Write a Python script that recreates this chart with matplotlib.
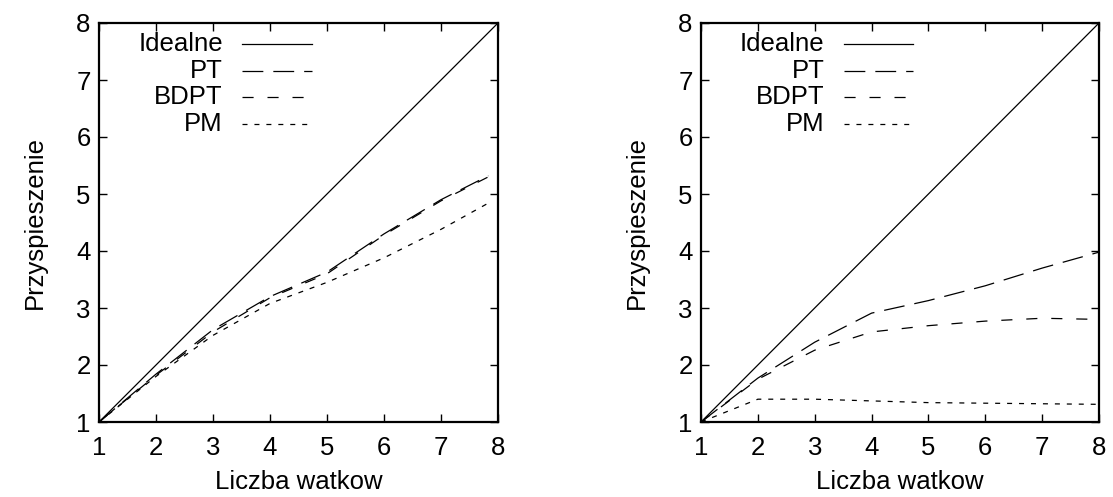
import matplotlib
matplotlib.use("Agg")
import matplotlib.pyplot as plt

plt.rcParams['font.family'] = ['Liberation Sans', 'DejaVu Sans']
plt.rcParams['lines.scale_dashes'] = False

# ---- data ----
series_names = ["Idealne", "PT", "BDPT", "PM"]
ticks = [1, 2, 3, 4, 5, 6, 7, 8]

ideal_x = [1, 8]
ideal_y = [1, 8]

left_x = [1, 2, 3, 4, 5, 6, 7, 7.83]
left_pt = [1, 1.84, 2.62, 3.2, 3.63, 4.3, 4.9, 5.32]
left_bdpt = [1, 1.82, 2.58, 3.18, 3.6, 4.28, 4.88, 5.3]
left_pm = [1, 1.8, 2.52, 3.08, 3.45, 3.88, 4.38, 4.84]

right_x = [1, 2, 3, 4, 5, 6, 7, 8]
right_pt = [1, 1.77, 2.4, 2.91, 3.13, 3.39, 3.7, 3.98]
right_bdpt = [1, 1.75, 2.26, 2.58, 2.69, 2.77, 2.82, 2.8]
right_pm = [1, 1.40, 1.40, 1.37, 1.34, 1.33, 1.32, 1.31]

xlabel = "Liczba watkow"
ylabel = "Przyspieszenie"

styles = [
    dict(linestyle='-'),
    dict(dashes=(15, 7.2)),
    dict(dashes=(8, 10)),
    dict(dashes=(3.6, 5)),
]

FS = 18.5

fig = plt.figure(figsize=(11.13, 4.97), dpi=100)
W, H = 1113, 497
axL = fig.add_axes([99 / W, (H - 422) / H, 399 / W, 399 / H])
axR = fig.add_axes([701 / W, (H - 422) / H, 398 / W, 399 / H])

panels = [
    (axL, left_x, [left_pt, left_bdpt, left_pm]),
    (axR, right_x, [right_pt, right_bdpt, right_pm]),
]

for ax, xs, ys in panels:
    ax.plot(ideal_x, ideal_y, color='black', lw=0.9, **styles[0])
    for y, st in zip(ys, styles[1:]):
        ax.plot(xs, y, color='black', lw=0.9, **st)
    ax.set_xlim(1, 8)
    ax.set_ylim(1, 8)
    ax.set_xticks(ticks)
    ax.set_yticks(ticks)
    ax.tick_params(direction='in', length=6, width=1, top=True, right=True,
                   labelsize=FS)
    ax.tick_params(axis='x', pad=10)
    ax.tick_params(axis='y', pad=6)
    for s in ax.spines.values():
        s.set_linewidth(1.6)
    ax.set_xlabel(xlabel, fontsize=FS)
    ax.set_ylabel(ylabel, fontsize=FS)
    ax.xaxis.set_label_coords(0.5, -0.12)
    ax.yaxis.set_label_coords(-0.13, 0.5)
    # gnuplot-style key: right-aligned text, sample line to the right
    tr = ax.transAxes
    for i, (name, st) in enumerate(zip(series_names, styles)):
        yk = 1 - (21 + i * 26.7) / 399
        ax.text(124 / 399, yk, name, transform=tr, ha='right', va='center',
                fontsize=FS)
        ax.plot([143 / 399, 213 / 399], [yk, yk], transform=tr,
                color='black', lw=0.9, **st)

fig.savefig("out.png", dpi=100)
